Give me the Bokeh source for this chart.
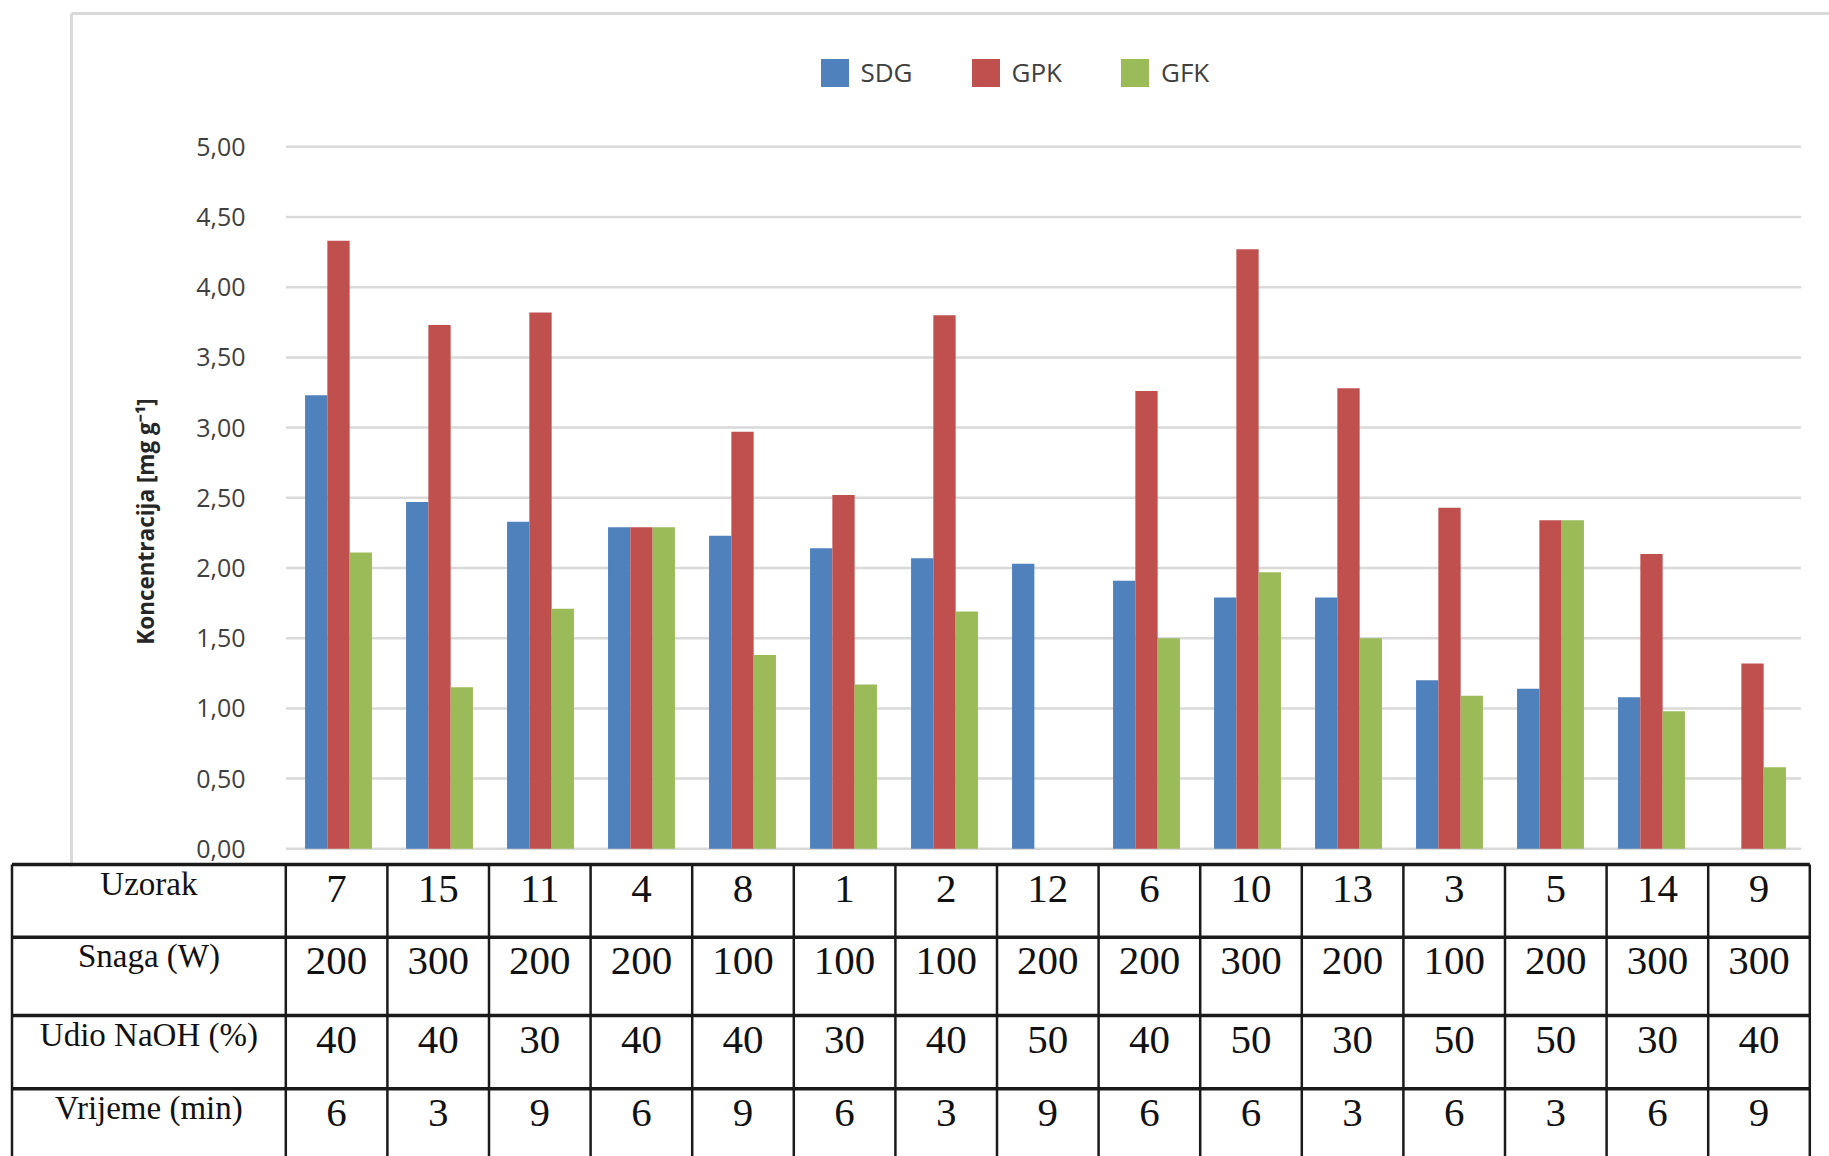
import math
from bokeh.plotting import figure
from bokeh.models import Range1d, Legend, LegendItem
from bokeh.core.properties import value
from bokeh.embed import file_html
from bokeh.resources import INLINE

# ---------------- data ----------------
samples = ["7", "15", "11", "4", "8", "1", "2", "12", "6", "10", "13", "3", "5", "14", "9"]
snaga = ["200", "300", "200", "200", "100", "100", "100", "200", "200", "300", "200", "100", "200", "300", "300"]
naoh = ["40", "40", "30", "40", "40", "30", "40", "50", "40", "50", "30", "50", "50", "30", "40"]
vrijeme = ["6", "3", "9", "6", "9", "6", "3", "9", "6", "6", "3", "6", "3", "6", "9"]
sdg = [3.23, 2.47, 2.33, 2.29, 2.23, 2.14, 2.07, 2.03, 1.91, 1.79, 1.79, 1.20, 1.14, 1.08, 0.0]
gpk = [4.33, 3.73, 3.82, 2.29, 2.97, 2.52, 3.80, 0.0, 3.26, 4.27, 3.28, 2.43, 2.34, 2.10, 1.32]
gfk = [2.11, 1.15, 1.71, 2.29, 1.38, 1.17, 1.69, 0.0, 1.50, 1.97, 1.50, 1.09, 2.34, 0.98, 0.58]
series_names = ["SDG", "GPK", "GFK"]
row_labels = ["Uzorak", "Snaga (W)", "Udio NaOH (%)", "Vrijeme (min)"]
y_ticks = [0.0, 0.5, 1.0, 1.5, 2.0, 2.5, 3.0, 3.5, 4.0, 4.5, 5.0]
y_tick_labels = ["0,00", "0,50", "1,00", "1,50", "2,00", "2,50", "3,00", "3,50", "4,00", "4,50", "5,00"]
y_title = "Koncentracija [mg g\u207b\u00b9]"

# ---------------- layout ----------------
W, H = 1829, 1156
CAT0_PX, CAT_PX = 338.0, 101.0      # category centre / spacing in pixels
Y0_PX, UNIT_PX = 848.3, 140.4       # y=0 pixel row (from top), pixels per unit
colors = ["#4F81BD", "#C0504D", "#9BBB59"]


def px2x(px):
    return (px - CAT0_PX) / CAT_PX


def py2y(py):
    return (Y0_PX - py) / UNIT_PX


p = figure(width=W, height=H, output_backend="svg", toolbar_location=None,
           x_range=Range1d(px2x(0), px2x(W)), y_range=Range1d(py2y(H), py2y(0)),
           min_border=0)
p.xaxis.visible = False
p.yaxis.visible = False
p.grid.visible = False
p.outline_line_color = None
p.background_fill_color = "white"

# chart box (light grey, open at the right)
p.segment(x0=[px2x(71), px2x(71)], y0=[py2y(13), py2y(13)],
          x1=[px2x(W + 5), px2x(71)], y1=[py2y(13), py2y(866)],
          line_color="#D9D9D9", line_width=3)

# gridlines
gx0, gx1 = -0.5 + px2x(CAT0_PX) - 0.02, len(samples) - 0.5 - 0.02
p.segment(x0=[gx0] * len(y_ticks), x1=[gx1] * len(y_ticks), y0=y_ticks, y1=y_ticks,
          line_color="#D9D9D9", line_width=2.5)

# y tick labels
p.text(x=[px2x(245)] * len(y_ticks), y=y_ticks, text=y_tick_labels,
       text_font=value("Open Sans"), text_font_size="25px", text_color="#404040",
       text_align="right", text_baseline="middle")

# y title
p.text(x=[px2x(145)], y=[py2y(521)], text=[y_title], angle=math.pi / 2,
       text_font=value("Open Sans"), text_font_style="bold", text_font_size="22.5px",
       text_color="#262626", text_align="center", text_baseline="middle")

# bars
xs = list(range(len(samples)))
bw = 22.3 / CAT_PX
renderers = []
for k, (vals, c) in enumerate(zip([sdg, gpk, gfk], colors)):
    off = (k - 1) * bw
    r = p.vbar(x=[x + off for x in xs], top=vals, bottom=0, width=bw,
               fill_color=c, line_color=None)
    renderers.append(r)

legend = Legend(items=[LegendItem(label=n, renderers=[r]) for n, r in zip(series_names, renderers)],
                orientation="horizontal", location=(816.5, H - 90),
                glyph_width=35, glyph_height=35, label_standoff=9, spacing=55,
                padding=0, margin=0, border_line_color=None, background_fill_alpha=0,
                label_text_font="Open Sans", label_text_font_size="26px",
                label_text_color="#404040", label_height=35)
p.add_layout(legend, "center")

# table
T_LEFT, T_X0, COL_W = 11.5, 285.3, 101.6
row_tops = [864.0, 936.7, 1015.0, 1088.3]
n = len(samples)
t_right = T_X0 + COL_W * n
p.segment(x0=[px2x(T_LEFT)] * 4, x1=[px2x(t_right)] * 4,
          y0=[py2y(t) for t in row_tops], y1=[py2y(t) for t in row_tops],
          line_color="#1a1a1a", line_width=3.5)
vlines = [T_LEFT] + [T_X0 + COL_W * k for k in range(n + 1)]
p.segment(x0=[px2x(v) for v in vlines], x1=[px2x(v) for v in vlines],
          y0=[py2y(row_tops[0])] * len(vlines), y1=[py2y(H + 10)] * len(vlines),
          line_color="#1a1a1a", line_width=2.5)

col_cx = [px2x(T_X0 + COL_W * (k + 0.5)) for k in range(n)]
for rt, lab, vals in zip(row_tops, row_labels, [samples, snaga, naoh, vrijeme]):
    p.text(x=col_cx, y=[py2y(rt + 24)] * n, text=vals,
           text_font=value("Liberation Serif"), text_font_size="41px", text_color="#111111",
           text_align="center", text_baseline="alphabetic")
    p.text(x=[px2x((T_LEFT + T_X0) / 2)], y=[py2y(rt + 19)], text=[lab],
           text_font=value("Liberation Serif"), text_font_size="33px", text_color="#111111",
           text_align="center", text_baseline="alphabetic")

open("out.html", "w").write(file_html(p, INLINE))
